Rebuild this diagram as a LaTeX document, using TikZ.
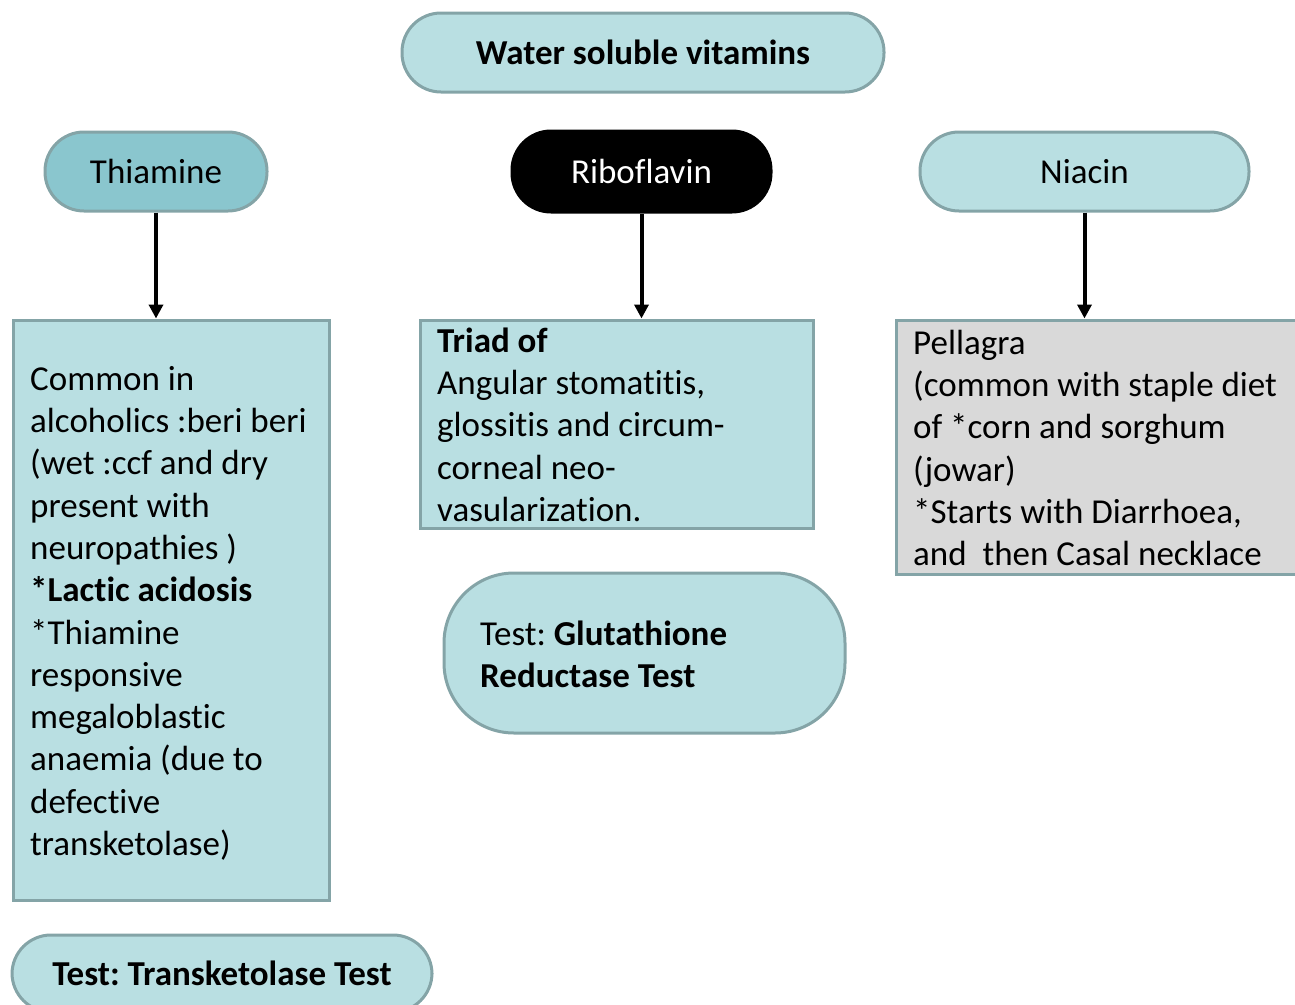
\documentclass[tikz,border=0pt]{standalone}
\usepackage{fontspec}
\setmainfont{Carlito}[Ligatures={NoCommon}]
\frenchspacing
\usetikzlibrary{arrows.meta}
\definecolor{lightfill}{RGB}{185,223,226}
\definecolor{darkfill}{RGB}{138,198,206}
\definecolor{edgecol}{RGB}{132,164,167}
\definecolor{grayfill}{RGB}{217,217,217}
\tikzset{
  pill/.style={draw=edgecol, line width=3pt, fill=lightfill, rounded corners=39pt, inner sep=0pt, font=\fontsize{35}{42}\selectfont},
  infobox/.style={draw=edgecol, line width=3pt, fill=lightfill, inner sep=0pt},
  bodytext/.style={anchor=north west, inner sep=0pt, align=left, font=\fontsize{35}{42.3}\selectfont},
  conn/.style={line width=4pt, -{Triangle[length=14pt,width=14pt]}}
}
\begin{document}
\begin{tikzpicture}[x=1pt,y=-1pt]
\useasboundingbox (0,0) rectangle (1295,1004);
\clip (0,0) rectangle (1295,1004);
% top
\node[pill, minimum width=482pt, minimum height=79pt] (ws) at (643,52.5) {\textbf{Water soluble vitamins}};
\node[pill, fill=darkfill, minimum width=222pt, minimum height=79pt] (thi) at (156,171.5) {Thiamine};
\node[pill, fill=black, draw=black, text=white, minimum width=259pt, minimum height=81pt] (rib) at (641.5,171.5) {Riboflavin};
\node[pill, minimum width=329pt, minimum height=79pt] (nia) at (1084.5,171.5) {Niacin};
% boxes
\node[infobox, minimum width=316pt, minimum height=580pt] (thibox) at (171,610) {};
\node[infobox, minimum width=393pt, minimum height=208pt] (ribbox) at (616.5,424) {};
\node[infobox, fill=grayfill, minimum width=406pt, minimum height=254pt] (niabox) at (1099,447) {};
\node[pill, rounded corners=70pt, minimum width=401pt, minimum height=160pt] (glut) at (644.5,653) {};
\node[pill, minimum width=420pt, minimum height=77pt] (trans) at (222,973.5) {\textbf{Test: Transketolase Test}};
% texts
\node[bodytext] (thitext) at (30,360.4) {\strut Common in\\alcoholics :beri beri\\(wet :ccf and dry\\present with\\neuropathies )\\\textbf{*Lactic acidosis}\\*Thiamine\\responsive\\megaloblastic\\anaemia (due to\\defective\\transketolase)};
\node[bodytext] (ribtext) at (437,322.4) {\strut\textbf{Triad of}\\Angular stomatitis,\\glossitis and circum-\\corneal neo-\\vasularization.};
\node[bodytext] (niatext) at (913,324.4) {\strut Pellagra\\(common with staple diet\\of *corn and sorghum\\(jowar)\\*Starts with Diarrhoea,\\and\ \ then Casal necklace};
\node[bodytext] (gluttext) at (480,615.4) {\strut Test: \textbf{Glutathione}\\\textbf{Reductase Test}};
% connectors
\draw[conn] (thi.south) -- (thi.south |- thibox.north);
\draw[conn] (rib.south) -- (rib.south |- ribbox.north);
\draw[conn] (nia.south) -- (nia.south |- niabox.north);
\end{tikzpicture}
\end{document}
